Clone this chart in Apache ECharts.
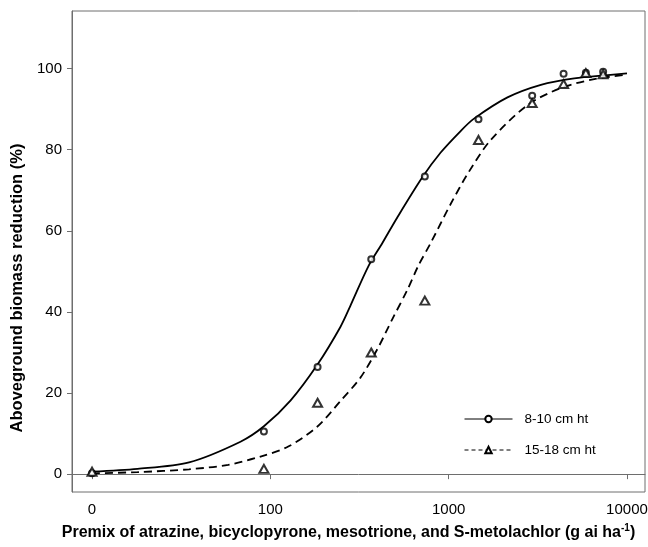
<!DOCTYPE html>
<html>
<head>
<meta charset="utf-8">
<script src="https://cdn.jsdelivr.net/npm/echarts@6/dist/echarts.min.js"></script>
<style>
  html, body { margin: 0; padding: 0; background: #fff; }
  #chart { width: 648px; height: 547px; }
</style>
</head>
<body>
<div id="chart"></div>
<script>
// observed doses (g ai/ha) and biomass reduction (%)
const doses = [0, 92, 184, 368, 735, 1470, 2940, 4410, 5880, 7350]
const smallPlants = [0.2, 10.5, 26.4, 53.0, 73.4, 87.5, 93.3, 98.7, 99.0, 99.2]
const largePlants = [0.6, 1.3, 17.6, 30.0, 42.8, 82.4, 91.5, 96.2, 98.9, 98.6]

// fitted curves
const smallFitDoses = [10, 18, 35, 68, 92, 130, 183, 247, 281, 355, 425, 515, 712, 902, 1167, 1381, 2137, 3289, 5060, 7800, 10000]
const smallFit = [0.6, 1.3, 2.9, 8.0, 11.8, 18.2, 26.9, 36.3, 41.5, 51.3, 57.0, 63.3, 73.2, 79.3, 84.6, 87.6, 92.9, 96.0, 97.6, 98.4, 98.8]
const largeFitDoses = [10, 18, 35, 58, 89, 126, 183, 247, 320, 398, 484, 586, 676, 793, 1026, 1300, 1722, 2769, 4255, 6550, 10000]
const largeFit = [0.2, 0.5, 1.2, 2.3, 4.4, 6.8, 11.7, 18.0, 23.8, 30.8, 38.3, 45.4, 51.4, 57.0, 66.6, 74.6, 82.4, 91.0, 95.2, 97.4, 98.5]

const xTicks = [0, 100, 1000, 10000]
const yTicks = [0, 20, 40, 60, 80, 100]
const seriesNames = ['8-10 cm ht', '15-18 cm ht']

// the untreated check is drawn where 10 would sit on the log axis
const ZERO_AT = 10
const place = (d) => (d === 0 ? ZERO_AT : d)
const xTickPos = xTicks.map(place)

const FONT = '"Liberation Sans", Arial, sans-serif'
const AXIS_GREY = '#6e6e6e'

function tickText(v) {
  const i = xTickPos.findIndex((p) => Math.abs(p - v) < p * 1e-6)
  return i < 0 ? '' : String(xTicks[i])
}

const chart = echarts.init(document.getElementById('chart'), null, { renderer: 'canvas' })

chart.setOption({
  animation: false,
  backgroundColor: '#fff',
  grid: {
    left: 72, right: 3, top: 11, bottom: 55,
    show: true, borderColor: AXIS_GREY, borderWidth: 1,
    outerBoundsMode: 'none',
  },
  legend: {
    data: [
      { name: seriesNames[0], lineStyle: { width: 1, type: 'solid' }, itemStyle: { borderWidth: 1 } },
      { name: seriesNames[1], lineStyle: { width: 1, type: [4, 3] }, itemStyle: { borderWidth: 1 } },
    ],
    orient: 'vertical',
    left: 459, top: 406,
    itemWidth: 48, itemHeight: 8, itemGap: 15,
    textStyle: { fontFamily: FONT, fontSize: 13.5, color: '#000', lineHeight: 16, padding: [0, 0, 0, 7] },
  },
  xAxis: {
    type: 'log',
    logBase: 10,
    min: 7.72,
    max: 12620,
    axisLine: { show: true, lineStyle: { color: AXIS_GREY, width: 1 } },
    axisTick: { show: true, length: 5, lineStyle: { color: AXIS_GREY }, customValues: xTickPos },
    axisLabel: {
      customValues: xTickPos,
      formatter: tickText,
      fontFamily: FONT, fontSize: 15, color: '#000', margin: 10,
    },
    splitLine: { show: false },
    minorTick: { show: false },
    name: '{t|Premix of atrazine, bicyclopyrone, mesotrione, and S-metolachlor (g ai ha}{s|-1}{t|)}',
    nameLocation: 'middle',
    nameGap: 31,
    nameTextStyle: {
      padding: [0, 20, 0, 0],
      rich: {
        t: { fontFamily: FONT, fontSize: 16, fontWeight: 'bold', color: '#000', lineHeight: 20 },
        s: { fontFamily: FONT, fontSize: 10, fontWeight: 'bold', color: '#000', lineHeight: 10, verticalAlign: 'top' },
      },
    },
  },
  yAxis: {
    type: 'value',
    min: -4.4,
    max: 114.2,
    axisLine: { show: true, lineStyle: { color: AXIS_GREY, width: 1 } },
    axisTick: { show: true, length: 5, lineStyle: { color: AXIS_GREY }, customValues: yTicks },
    axisLabel: { customValues: yTicks, fontFamily: FONT, fontSize: 15, color: '#000', margin: 10 },
    splitLine: { show: false },
    name: 'Aboveground biomass reduction (%)',
    nameLocation: 'middle',
    nameGap: 39,
    nameTextStyle: {
      fontFamily: FONT, fontSize: 16.5, fontWeight: 'bold', color: '#000',
      padding: [0, 73, 0, 0],
    },
  },
  series: [
    {
      name: seriesNames[0],
      type: 'line',
      data: smallFitDoses.map((d, i) => [d, smallFit[i]]),
      smooth: 0.3,
      symbol: 'emptyCircle',
      showSymbol: false,
      lineStyle: { color: '#000', width: 1.8 },
      itemStyle: { color: '#000' },
      z: 2,
    },
    {
      name: seriesNames[1],
      type: 'line',
      data: largeFitDoses.map((d, i) => [d, largeFit[i]]),
      smooth: 0.3,
      symbol: 'emptyTriangle',
      showSymbol: false,
      lineStyle: { color: '#000', width: 1.8, type: [8, 5] },
      itemStyle: { color: '#000' },
      z: 2,
    },
    {
      name: 'obs-small',
      type: 'scatter',
      data: doses.map((d, i) => [place(d), smallPlants[i]]),
      symbol: 'emptyCircle',
      symbolSize: 6,
      itemStyle: { color: '#000', borderColor: '#000', borderWidth: 1.3 },
      z: 3,
    },
    {
      name: 'obs-large',
      type: 'scatter',
      data: doses.map((d, i) => [place(d), largePlants[i]]),
      symbol: 'emptyTriangle',
      symbolSize: [9, 8],
      itemStyle: { color: '#000', borderColor: '#000', borderWidth: 1.8 },
      z: 3,
    },
  ],
})
</script>
</body>
</html>
